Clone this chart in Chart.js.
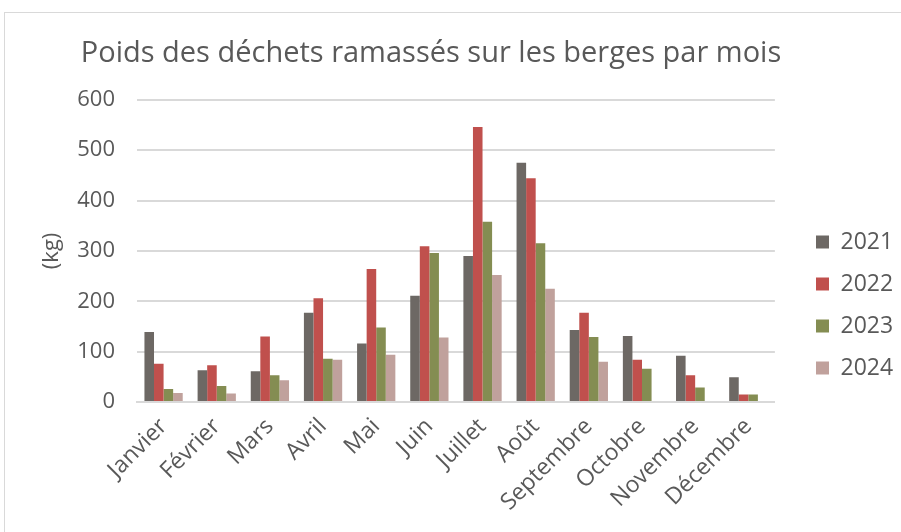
<!DOCTYPE html>
<html lang="fr">
<head>
    <meta charset="UTF-8">
    <title>Poids des déchets ramassés</title>
    <style>
        body, html {
            margin: 0;
            background: white;
            font-family: "Open Sans", sans-serif;
        }
        .frame {
            position: absolute;
            left: 4px;
            top: 12px;
            width: 920px;
            height: 540px;
            border: 1px solid #d9d9d9;
        }
        .wrap {
            position: absolute;
            left: 0;
            top: 0;
            width: 901px;
            height: 532px;
        }
    </style>
    <script src="https://cdn.jsdelivr.net/npm/chart.js"></script>
</head>
<body>
    <div class="frame"></div>
    <div class="wrap"><canvas id="chart"></canvas></div>

    <script>
        const months = ['Janvier', 'Février', 'Mars', 'Avril', 'Mai', 'Juin', 'Juillet', 'Août', 'Septembre', 'Octobre', 'Novembre', 'Décembre'];
        const years = ['2021', '2022', '2023', '2024'];
        const v2021 = [139, 63, 61, 177, 116, 211, 290, 475, 143, 131, 92, 49];
        const v2022 = [76, 73, 130, 206, 264, 309, 546, 444, 177, 84, 53, 15];
        const v2023 = [26, 32, 53, 86, 148, 296, 358, 315, 129, 66, 29, 15];
        const v2024 = [18, 17, 43, 84, 94, 128, 252, 225, 80, 0, 0, 0];
        const colors = ['#6d6864', '#c0504d', '#848d52', '#c0a19c'];

        const grey = '#595959';
        const series = [v2021, v2022, v2023, v2024];

        // move the legend right/down and the title left, like the original
        const shiftBoxes = {
            id: 'shiftBoxes',
            afterLayout(chart) {
                const lg = chart.legend;
                const dx = 816 - (lg.left + lg.options.labels.padding);
                const dy = 305 - (lg.top + lg.bottom) / 2;
                lg.left += dx; lg.right += dx;
                lg.top += dy; lg.bottom += dy;

                const t = chart.titleBlock;
                const tx = 431 - (t.left + t.right) / 2;
                t.left += tx; t.right += tx;
            }
        };

        new Chart(document.getElementById('chart'), {
            type: 'bar',
            data: {
                labels: months,
                datasets: series.map((d, i) => ({
                    label: years[i],
                    data: d,
                    backgroundColor: colors[i],
                    barPercentage: 1,
                    categoryPercentage: 0.72
                }))
            },
            options: {
                responsive: true,
                maintainAspectRatio: false,
                animation: false,
                layout: { padding: { left: 35, right: 20, top: 0, bottom: 0 } },
                plugins: {
                    title: {
                        display: true,
                        text: 'Poids des déchets ramassés sur les berges par mois',
                        color: grey,
                        font: { family: 'Open Sans', size: 29, weight: 'normal' },
                        padding: { top: 36, bottom: 29 }
                    },
                    legend: {
                        position: 'right',
                        labels: {
                            color: grey,
                            font: { family: 'Open Sans', size: 23 },
                            boxWidth: 13,
                            boxHeight: 13,
                            padding: 19
                        }
                    },
                    tooltip: { enabled: false }
                },
                scales: {
                    x: {
                        grid: { display: false },
                        border: { color: '#d9d9d9', width: 2 },
                        afterFit: s => { s.height = 130; },
                        ticks: {
                            color: grey,
                            font: { family: 'Open Sans', size: 23 },
                            maxRotation: 45,
                            minRotation: 45,
                            padding: 3
                        }
                    },
                    y: {
                        min: 0,
                        max: 600,
                        afterFit: s => { s.width = 102; },
                        ticks: {
                            stepSize: 100,
                            color: grey,
                            font: { family: 'Open Sans', size: 22 },
                            padding: 22
                        },
                        grid: { color: '#d9d9d9', lineWidth: 2, drawTicks: false },
                        border: { display: false },
                        title: {
                            display: true,
                            text: '(kg)',
                            color: grey,
                            font: { family: 'Open Sans', size: 22 },
                            padding: 4
                        }
                    }
                }
            },
            plugins: [shiftBoxes]
        });
    </script>
</body>
</html>
